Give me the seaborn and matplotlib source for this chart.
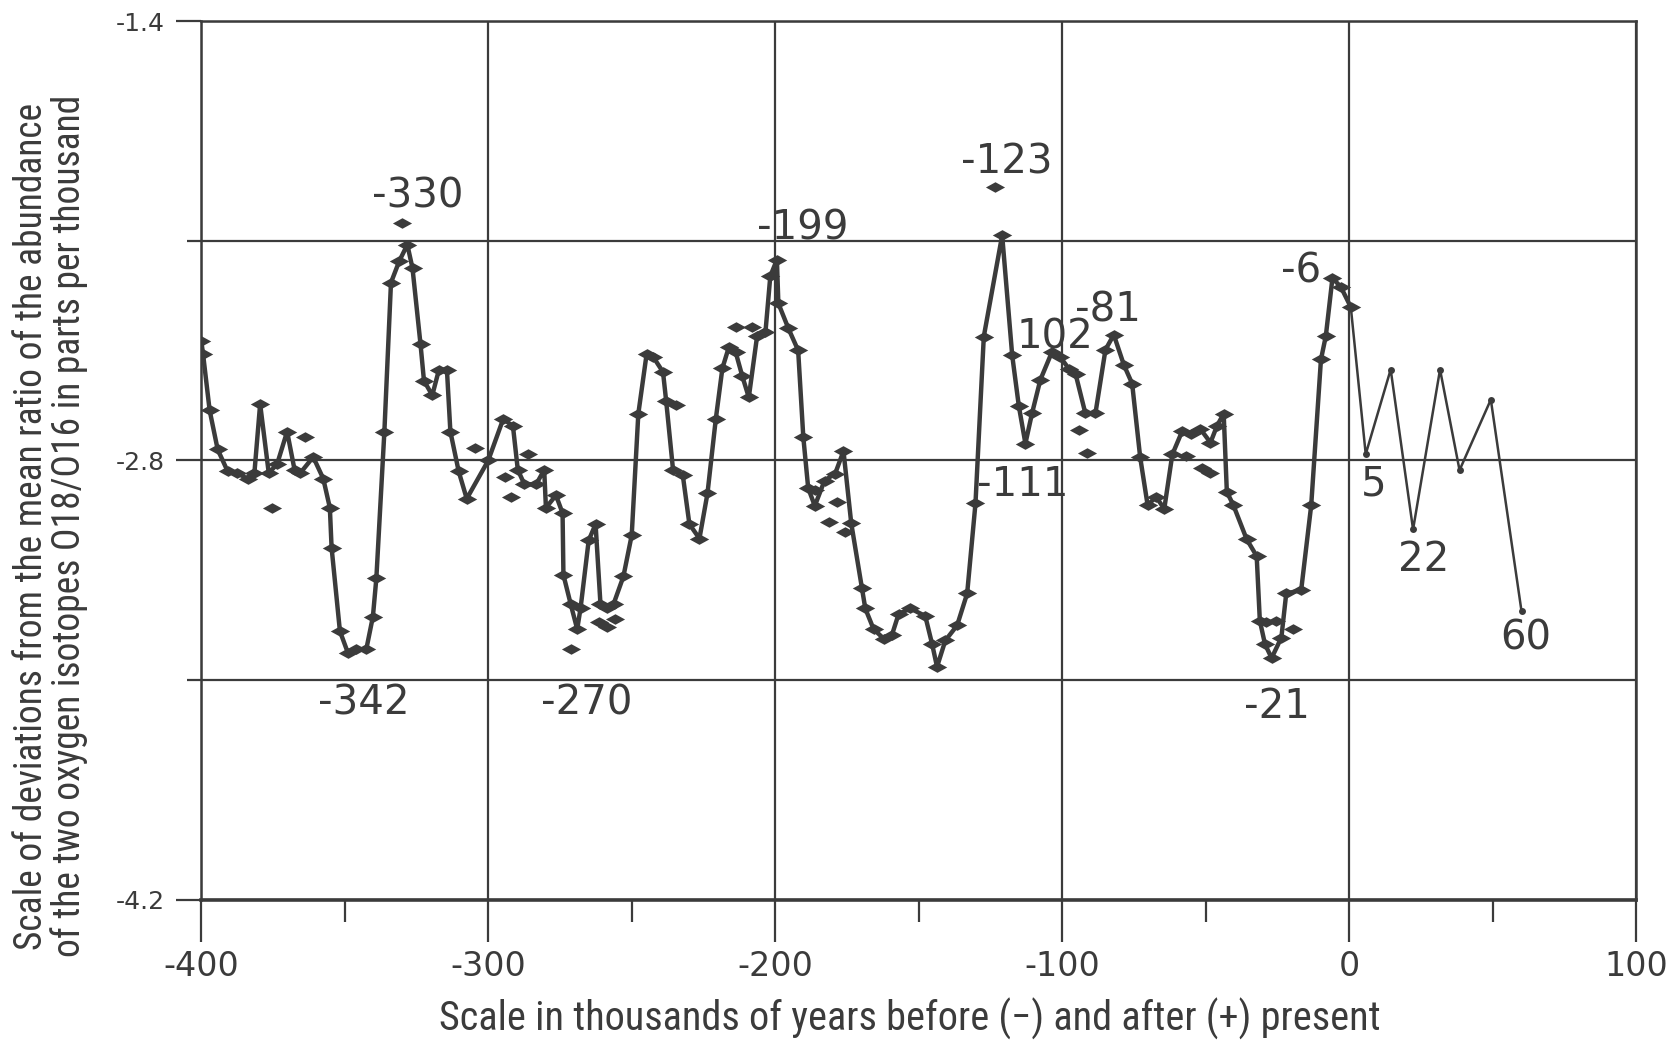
import numpy as np
import pandas as pd
import matplotlib
matplotlib.use('Agg')
import matplotlib.pyplot as plt
from matplotlib import font_manager
import seaborn as sns

sns.set_style('ticks')
plt.rcParams['font.family'] = ['DejaVu Sans']

INK = '#3b3b3b'

# main core curve (thousands of years, per mil)
age = [-400, -399.4, -397.1, -394.3, -390.8, -387.4, -383.9, -381.5, -379.5, -376.5,
       -373.6, -370.1, -367.5, -365.5, -361, -357.5, -355.2, -354.6, -351.7, -348.9,
       -346, -342.5, -340.2, -339, -336.2, -333.9, -331, -328.2, -326.4, -323.6,
       -322.4, -319.5, -317.2, -314.4, -313.2, -310.3, -307.5, -300, -294.8, -291.4,
       -289.7, -287.4, -283.3, -280.5, -279.9, -276.4, -274.1, -273.8, -271.3, -269,
       -267.8, -265, -262.6, -260.9, -258.6, -256.3, -252.9, -250, -247.7, -244.8,
       -242.5, -239.1, -238, -235.6, -232.2, -229.9, -226.4, -223.6, -220.7, -218.4,
       -216.1, -213.8, -211.5, -209.2, -206.3, -203.4, -201.7, -199.4, -198.9, -195.4,
       -192, -190.2, -188.5, -186.2, -182.8, -179.1, -176.2, -173.5, -169.8, -168.6,
       -165.7, -162.2, -159.3, -157, -152.9, -147.7, -145.3, -143.6, -140.7, -136.6,
       -133.1, -130.2, -127.3, -120.9, -117.4, -115.1, -112.8, -110.5, -107.6, -103.5,
       -100.6, -97.7, -95.3, -91.9, -88.4, -84.9, -82, -78.5, -75.6, -72.8,
       -70.2, -67.3, -64.4, -61.6, -58.1, -55.2, -51.8, -48.3, -46, -43.7,
       -42.6, -40.3, -35.7, -32.2, -31.1, -29.3, -27, -23.6, -21.9, -16.7,
       -13.2, -9.8, -8.1, -5.8, -2.9, 0.6]
delta = [-2.42, -2.46, -2.64, -2.765, -2.835, -2.841, -2.858, -2.84, -2.62, -2.84,
         -2.812, -2.708, -2.83, -2.84, -2.789, -2.858, -2.951, -3.078, -3.344, -3.414,
         -3.402, -3.402, -3.298, -3.176, -2.708, -2.233, -2.164, -2.112, -2.187, -2.43,
         -2.546, -2.592, -2.511, -2.511, -2.708, -2.835, -2.922, -2.80, -2.668, -2.69,
         -2.83, -2.876, -2.876, -2.83, -2.951, -2.911, -2.968, -3.165, -3.257, -3.338,
         -3.269, -3.055, -3.003, -3.257, -3.269, -3.257, -3.17, -3.038, -2.651, -2.46,
         -2.47, -2.518, -2.61, -2.83, -2.847, -3.003, -3.049, -2.905, -2.668, -2.506,
         -2.437, -2.454, -2.53, -2.599, -2.403, -2.391, -2.212, -2.16, -2.299, -2.379,
         -2.449, -2.726, -2.888, -2.945, -2.864, -2.842, -2.77, -3.0, -3.206, -3.272,
         -3.338, -3.368, -3.356, -3.29, -3.272, -3.296, -3.386, -3.458, -3.374, -3.326,
         -3.224, -2.937, -2.405, -2.082, -2.465, -2.626, -2.746, -2.65, -2.543, -2.453,
         -2.471, -2.507, -2.525, -2.65, -2.65, -2.447, -2.399, -2.495, -2.555, -2.79,
         -2.943, -2.916, -2.954, -2.781, -2.705, -2.716, -2.7, -2.743, -2.689, -2.651,
         -2.9, -2.943, -3.051, -3.105, -3.311, -3.386, -3.43, -3.365, -3.224, -3.214,
         -2.943, -2.478, -2.403, -2.219, -2.246, -2.311]

# extrapolated future part
future_age = [0.6, 5.8, 14.5, 22.3, 31.7, 38.5, 49.4, 60.1]
future_delta = [-2.311, -2.78, -2.51, -3.02, -2.51, -2.831, -2.606, -3.281]

# loose samples off the main curve
loose_age = [-375.3, -363.8, -329.9, -304.6, -294.3, -292, -286.2, -271.3, -261.5, -258.6,
             -255.7, -234.5, -213.8, -208, -186, -178.5, -181.4, -175.6, -123.5, -94.2,
             -91.3, -57, -51.2, -48.3, -28.8, -25.3, -19.6]
loose_delta = [-2.951, -2.725, -2.042, -2.76, -2.853, -2.916, -2.778, -3.401, -3.315, -3.332,
               -3.304, -2.622, -2.374, -2.374, -2.895, -2.931, -2.997, -3.027, -1.927, -2.704,
               -2.776, -2.786, -2.824, -2.841, -3.316, -3.311, -3.338]

peak_text = ['-330', '-199', '-123', '102', '-81', '-111', '-6', '5', '22', '60',
             '-342', '-270', '-21']
peak_pos = [(-324.6, -1.957), (-190.3, -2.059), (-119.4, -1.851), (-102.6, -2.407),
            (-84.1, -2.322), (-113.8, -2.878), (-16.8, -2.196), (8.6, -2.878),
            (26.1, -3.117), (61.6, -3.369), (-343.3, -3.575), (-265.6, -3.575),
            (-25.0, -3.585)]

df_main = pd.DataFrame({'age': age, 'delta': delta})
df_future = pd.DataFrame({'age': future_age, 'delta': future_delta})
df_loose = pd.DataFrame({'age': loose_age, 'delta': loose_delta})

# pick a narrow face for the hand-lettered axis captions if one is installed
installed = {f.name for f in font_manager.fontManager.ttflist}
narrow = next((n for n in ['Roboto Condensed', 'Liberation Sans Narrow', 'Open Sans Condensed']
               if n in installed), None)
dv_cond = any(f.name == 'DejaVu Sans' and f.stretch == 'condensed'
              for f in font_manager.fontManager.ttflist)
if narrow:
    xcap_kw = dict(family=[narrow, 'DejaVu Sans'], fontsize=29)
    ycap_kw = dict(family=[narrow, 'DejaVu Sans'], fontsize=27)
elif dv_cond:
    xcap_kw = dict(family=['DejaVu Sans'], fontstretch='condensed', fontsize=27)
    ycap_kw = dict(family=['DejaVu Sans'], fontstretch='condensed', fontsize=25)
else:
    xcap_kw = dict(family=['DejaVu Sans'], fontsize=22)
    ycap_kw = dict(family=['DejaVu Sans'], fontsize=21)

diamond = [(-1, 0), (0, 0.55), (1, 0), (0, -0.55), (-1, 0)]

fig = plt.figure(figsize=(16.79, 10.44), dpi=100)
ax = fig.add_axes([0.1199, 0.1384, 0.8545, 0.8411])

sns.lineplot(data=df_main, x='age', y='delta', sort=False, estimator=None, color=INK,
             lw=3.2, marker=diamond, markersize=14, markeredgewidth=0, ax=ax)
sns.lineplot(data=df_future, x='age', y='delta', sort=False, estimator=None, color=INK,
             lw=1.8, marker='o', markersize=5, markeredgewidth=0, ax=ax)
sns.scatterplot(data=df_loose, x='age', y='delta', marker=diamond, s=190, color=INK,
                linewidth=0, ax=ax, zorder=3)

for txt, (px, py) in zip(peak_text, peak_pos):
    ax.text(px, py, txt, ha='center', va='center', fontsize=29, color=INK)

ax.set_xlim(-400, 100)
ax.set_ylim(-4.2, -1.4)
ax.set_xticks([-400, -300, -200, -100, 0, 100])
ax.set_xticklabels(['-400', '-300', '-200', '-100', '0', '100'])
ax.set_xticks([-350, -250, -150, -50, 50], minor=True)
ax.set_yticks([-4.2, -2.8, -1.4])
ax.set_yticklabels(['-4.2', '-2.8', '-1.4'])
ax.set_yticks([-3.5, -2.1], minor=True)

ax.xaxis.grid(True, which='major', color=INK, lw=1.6)
ax.yaxis.grid(True, which='both', color=INK, lw=1.6)
ax.set_axisbelow(True)

for side in ['left', 'right', 'top']:
    ax.spines[side].set_color(INK)
    ax.spines[side].set_linewidth(1.8)
ax.spines['bottom'].set_color(INK)
ax.spines['bottom'].set_linewidth(2.6)

ax.tick_params(axis='x', which='major', length=30, width=1.6, color=INK,
               labelsize=24, labelcolor=INK, pad=6)
ax.tick_params(axis='x', which='minor', length=16, width=1.6, color=INK)
ax.tick_params(axis='y', which='major', length=18, width=1.6, color=INK,
               labelsize=18, labelcolor=INK, pad=8)
ax.tick_params(axis='y', which='minor', length=10, width=1.6, color=INK)

ax.set_xlabel('')
ax.set_ylabel('')

fig.text(0.542, 0.024, 'Scale in thousands of years before (\u2212) and after (+) present',
         ha='center', va='center', color=INK, **xcap_kw)
fig.text(0.030, 0.496,
         'Scale of deviations from the mean ratio of the abundance\n'
         'of the two oxygen isotopes O18/O16 in parts per thousand',
         ha='center', va='center', rotation=90, color=INK, linespacing=1.0, **ycap_kw)

fig.savefig('out.png', dpi=100)
